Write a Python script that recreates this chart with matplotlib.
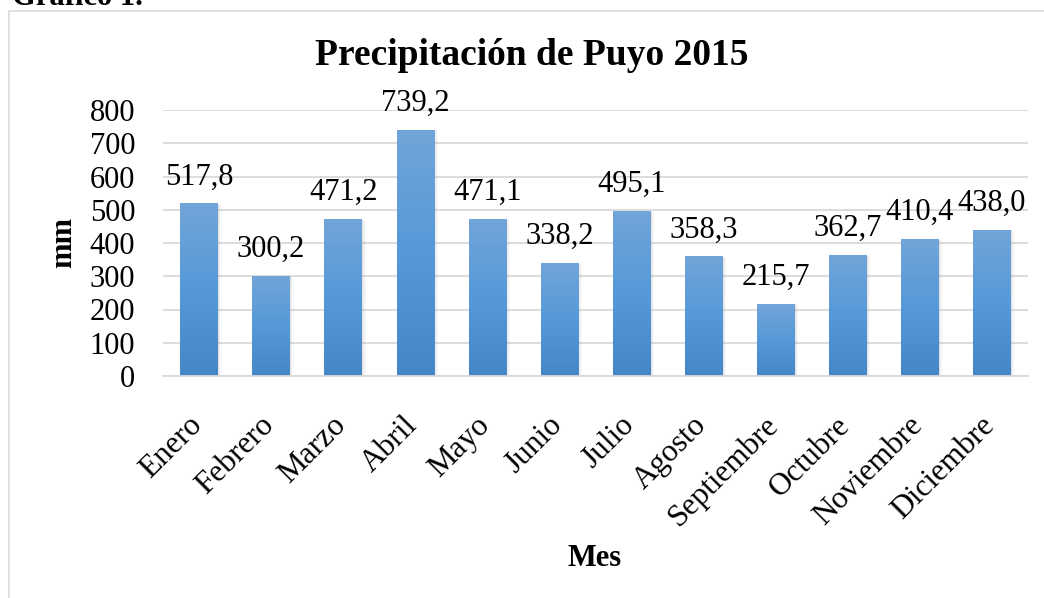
import numpy as np
import matplotlib
matplotlib.use('Agg')
import matplotlib.pyplot as plt
from matplotlib.colors import LinearSegmentedColormap
from matplotlib.patches import Rectangle
import matplotlib.transforms as mtransforms

plt.rcParams['font.family'] = ['Liberation Serif', 'DejaVu Serif']

meses = ['Enero', 'Febrero', 'Marzo', 'Abril', 'Mayo', 'Junio', 'Julio',
         'Agosto', 'Septiembre', 'Octubre', 'Noviembre', 'Diciembre']
precip = [517.8, 300.2, 471.2, 739.2, 471.1, 338.2, 495.1,
          358.3, 215.7, 362.7, 410.4, 438.0]
yticks = [0, 100, 200, 300, 400, 500, 600, 700, 800]

fig = plt.figure(figsize=(10.44, 5.98), dpi=100)

# marco del grafico (se corta a la derecha y abajo)
fig.patches.append(Rectangle((9 / 1044, -0.1), 1.2, 1 - 11 / 598 + 0.1,
                             transform=fig.transFigure, fill=False,
                             edgecolor='#d9d9d9', lw=1.2))
fig.text(12 / 1044, 1 - 5 / 598, 'Gráfico 1.', fontsize=22,
         fontweight='bold', va='baseline', ha='left')

ax = fig.add_axes([163 / 1044, 1 - 376 / 598, 865 / 1044, 266 / 598])

x = np.arange(len(meses))
bars = ax.bar(x, precip, width=0.52, color='none', zorder=3)

grad = LinearSegmentedColormap.from_list(
    'g', ['#4686c6', '#5599d8', '#72a5d9'])
g = np.linspace(0, 1, 256).reshape(-1, 1)
for b in bars:
    x0, w, h = b.get_x(), b.get_width(), b.get_height()
    # sombra suave
    for k, a in enumerate([0.10, 0.07, 0.04]):
        off = 0.02 + 0.02 * k
        ax.add_patch(Rectangle((x0 + off * 0.6, -4), w + off * 0.3, h + 4 - off * 20,
                               facecolor='#7f7f7f', alpha=a, lw=0, zorder=2))
    ax.imshow(g, extent=[x0, x0 + w, 0, h], origin='lower', cmap=grad,
              aspect='auto', zorder=3)

for xi, v in zip(x, precip):
    ax.annotate(f'{v:.1f}'.replace('.', ','), (xi, v), xytext=(0, 9),
                textcoords='offset points', ha='center', va='bottom',
                fontsize=22)

ax.set_xlim(-0.5, len(meses) - 0.5)
ax.set_ylim(0, 800)
ax.set_yticks(yticks)
ax.set_yticklabels([str(t) for t in yticks], fontsize=22)
ax.set_xticks(x)
ax.set_xticklabels(meses, fontsize=22.5, rotation=45, ha='right', va='top',
                   rotation_mode='anchor')
ax.tick_params(axis='both', length=0)
ax.tick_params(axis='y', pad=20)
ax.tick_params(axis='x', pad=25)
off = mtransforms.ScaledTranslation(-12 / 100, 0, fig.dpi_scale_trans)
for lbl in ax.get_xticklabels():
    lbl.set_transform(lbl.get_transform() + off)

ax.yaxis.grid(True, color='#d9d9d9', lw=1.3, zorder=0)
ax.set_axisbelow(True)
for s in ['top', 'right', 'left']:
    ax.spines[s].set_visible(False)
ax.spines['bottom'].set_color('#d9d9d9')
ax.spines['bottom'].set_linewidth(1.3)
ax.spines['bottom'].set_zorder(4)

fig.text(532 / 1044, 1 - 65 / 598, 'Precipitación de Puyo 2015',
         fontsize=27, fontweight='bold', ha='center', va='baseline')
fig.text(64 / 1044, 1 - 242 / 598, 'mm', fontsize=22, fontweight='bold',
         rotation=90, ha='center', va='center')
fig.text(595 / 1044, 1 - 558 / 598, 'Mes', fontsize=22, fontweight='bold',
         ha='center', va='center')

fig.savefig('out.png', dpi=100)
